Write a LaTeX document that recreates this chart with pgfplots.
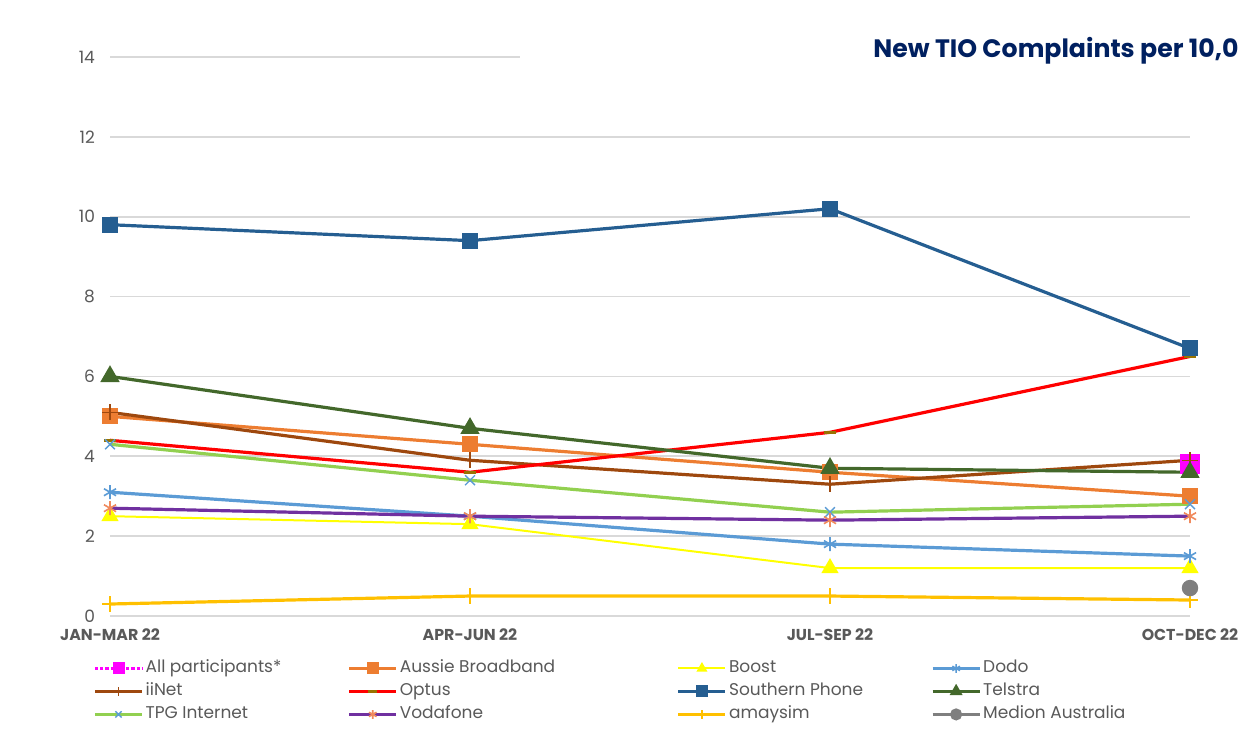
\documentclass[border=0pt]{standalone}
\usepackage{pgfplots}
\pgfplotsset{compat=1.18}
\usepackage{fontspec}
\setmainfont{Poppins}
\definecolor{tickgray}{HTML}{595959}
\definecolor{gridgray}{HTML}{D9D9D9}
\definecolor{navy}{HTML}{002060}
\definecolor{cAll}{HTML}{FF00FF}
\definecolor{cSP}{HTML}{255E91}
\definecolor{cTel}{HTML}{43682B}
\definecolor{cII}{HTML}{9E480E}
\definecolor{cAB}{HTML}{ED7D31}
\definecolor{cTPG}{HTML}{92D050}
\definecolor{cDodo}{HTML}{5B9BD5}
\definecolor{cVoda}{HTML}{7030A0}
\definecolor{cVodaM}{HTML}{F08A5D}
\definecolor{cBoost}{HTML}{FFFF00}
\definecolor{cAmay}{HTML}{FFC000}
\definecolor{cMed}{HTML}{7F7F7F}
\definecolor{cOptM}{HTML}{997300}
\newcommand{\legtxt}[1]{\makebox[100pt][l]{#1}}
\newcommand{\legtxtw}[1]{\makebox[137.5pt][l]{#1}}
\begin{document}
\begin{tikzpicture}
\path[use as bounding box] (-55pt,-66.5pt) rectangle (566.5pt,308pt);
\begin{axis}[
  at={(0,0)}, anchor=south west,
  scale only axis, width=540pt, height=279.5pt,
  xmin=0, xmax=3, ymin=0, ymax=14,
  xtick={0,1,2,3},
  xticklabels={JAN-MAR 22,APR-JUN 22,JUL-SEP 22,OCT-DEC 22},
  ytick={0,2,4,6,8,10,12,14},
  ymajorgrids, grid style={gridgray, line width=0.8pt},
  axis line style={draw=none},
  major tick length=0pt,
  tick label style={text=tickgray},
  xticklabel style={font=\bfseries\fontsize{7.9}{10}\selectfont, yshift=-3pt},
  yticklabel style={font=\fontsize{8.5}{10}\selectfont, xshift=-4pt},
  /pgf/number format/assume math mode=true,
  clip=false,
  legend columns=4,
  legend style={at={(-0.0157,-0.0725)}, anchor=north west, draw=none, fill=none,
    inner sep=0pt, font=\fontsize{8.5}{10}\selectfont, text=tickgray,
    nodes={text height=6.5pt, text depth=2pt, inner ysep=1.5pt, inner xsep=1pt}},
  legend cell align=left,
  legend image code/.code={\draw[mark repeat=2,mark phase=2,mark size=2.2pt] plot coordinates {(0pt,0pt) (11.75pt,0pt) (23.5pt,0pt)};},
]
% All participants
\addplot[cAll, densely dotted, line width=1.6pt, mark=square*, mark size=4.3pt, mark options={solid, fill=cAll, draw=cAll}] coordinates {(3,3.8)};
\addlegendentry{\legtxt{All participants*}}
% Aussie Broadband
\addplot[cAB, line width=1.6pt, mark=square*, mark size=3.2pt, mark options={solid}] coordinates {(0,5.0) (1,4.3) (2,3.6) (3,3.0)};
\addlegendentry{\legtxtw{Aussie Broadband}}
% Boost
\addplot[cBoost, line width=1pt, mark=triangle*, mark size=4pt, mark options={solid}] coordinates {(0,2.5) (1,2.3) (2,1.2) (3,1.2)};
\addlegendentry{\legtxt{Boost}}
% Dodo
\addplot[cDodo, line width=1.6pt, mark=asterisk, mark size=3.5pt, mark options={solid, line width=0.8pt}] coordinates {(0,3.1) (1,2.5) (2,1.8) (3,1.5)};
\addlegendentry{\legtxt{Dodo}}
% iiNet
\addplot[cII, line width=1.6pt, mark=+, mark size=4pt, mark options={solid, line width=0.6pt}] coordinates {(0,5.1) (1,3.9) (2,3.3) (3,3.9)};
\addlegendentry{\legtxt{iiNet}}
% Optus
\addplot[red, line width=1.6pt, mark=-, mark size=3pt, mark options={solid, draw=cOptM, line width=1.6pt}] coordinates {(0,4.4) (1,3.6) (2,4.6) (3,6.5)};
\addlegendentry{\legtxtw{Optus}}
% Southern Phone
\addplot[cSP, line width=1.6pt, mark=square*, mark size=3.2pt, mark options={solid}] coordinates {(0,9.8) (1,9.4) (2,10.2) (3,6.7)};
\addlegendentry{\legtxt{Southern Phone}}
% Telstra
\addplot[cTel, line width=1.6pt, mark=triangle*, mark size=4pt, mark options={solid}] coordinates {(0,6.0) (1,4.7) (2,3.7) (3,3.6)};
\addlegendentry{\legtxt{Telstra}}
% TPG Internet
\addplot[cTPG, line width=1.6pt, mark=x, mark size=3.5pt, mark options={solid, draw=cDodo, line width=0.7pt}] coordinates {(0,4.3) (1,3.4) (2,2.6) (3,2.8)};
\addlegendentry{\legtxt{TPG Internet}}
% Vodafone
\addplot[cVoda, line width=1.6pt, mark=asterisk, mark size=3.5pt, mark options={solid, draw=cVodaM, line width=0.8pt}] coordinates {(0,2.7) (1,2.5) (2,2.4) (3,2.5)};
\addlegendentry{\legtxtw{Vodafone}}
% amaysim
\addplot[cAmay, line width=1.6pt, mark=+, mark size=4pt, mark options={solid, line width=0.6pt}] coordinates {(0,0.3) (1,0.5) (2,0.5) (3,0.4)};
\addlegendentry{\legtxt{amaysim}}
% Medion Australia
\addplot[cMed, line width=1.6pt, mark=*, mark size=3.3pt, mark options={solid}] coordinates {(3,0.7)};
\addlegendentry{\legtxt{Medion Australia}}
\end{axis}
\fill[white] (205pt,268pt) rectangle (640pt,305pt);
\node[anchor=west, inner sep=0pt, text=navy, font=\bfseries\fontsize{12.6}{15}\selectfont] at (381.5pt,282.5pt) {New TIO Complaints per 10,0};
\end{tikzpicture}
\end{document}
